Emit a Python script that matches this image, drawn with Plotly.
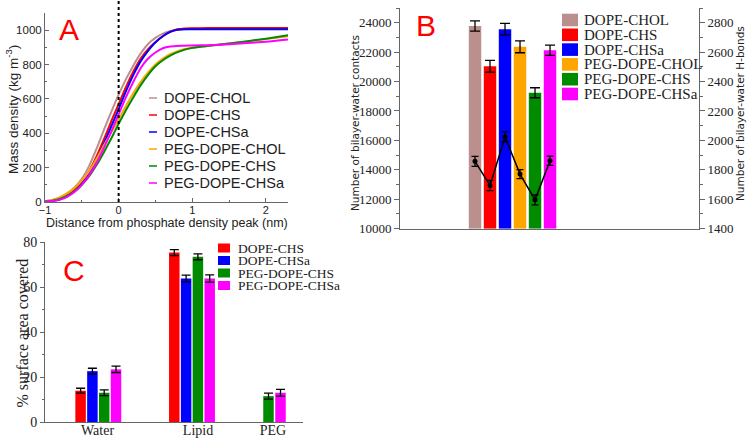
import plotly.graph_objects as go

W, H = 750, 439
def px(x): return x / W
def py(y): return 1 - y / H

# ---------------- Panel A data ----------------
dist = [-1, -0.9, -0.8, -0.7, -0.6, -0.5, -0.4, -0.3, -0.2, -0.1, 0, 0.1, 0.2, 0.3, 0.4,
        0.5, 0.6, 0.7, 0.8, 0.9, 1.0, 1.2, 1.5, 2.0, 2.3]
dope_chol = [5, 12, 25, 50, 85, 135, 210, 310, 420, 525, 625, 715, 795, 865, 920,
             955, 980, 995, 1003, 1006, 1008, 1009, 1009, 1010, 1010]
dope_chs = [3, 8, 18, 38, 70, 115, 180, 265, 365, 470, 570, 670, 760, 835, 890,
            930, 965, 990, 1005, 1010, 1011, 1012, 1012, 1012, 1012]
dope_chsa = [3, 7, 15, 33, 62, 105, 165, 245, 340, 440, 540, 645, 740, 820, 880,
             930, 965, 990, 1003, 1005, 1005, 1005, 1005, 1005, 1005]
peg_chol = [5, 12, 27, 50, 82, 125, 180, 250, 330, 405, 480, 560, 635, 700, 755,
            800, 835, 860, 878, 890, 898, 908, 922, 948, 965]
peg_chs = [3, 8, 18, 35, 63, 100, 150, 215, 290, 370, 455, 535, 610, 680, 740,
           790, 825, 852, 872, 887, 897, 908, 922, 950, 970]
peg_chsa = [2, 6, 14, 30, 58, 100, 155, 225, 315, 410, 510, 610, 700, 780, 835,
            870, 895, 905, 908, 910, 911, 913, 918, 933, 946]

systems = ["DOPE-CHOL", "DOPE-CHS", "DOPE-CHSa", "PEG-DOPE-CHOL", "PEG-DOPE-CHS", "PEG-DOPE-CHSa"]
colors = ["#bc8f8f", "#ff0000", "#0000ff", "#ffa500", "#008b00", "#ff00ff"]
density = [dope_chol, dope_chs, dope_chsa, peg_chol, peg_chs, peg_chsa]

# ---------------- Panel B data ----------------
contacts = [23780, 21040, 23560, 22360, 19240, 22130]
contacts_err = [350, 400, 390, 400, 340, 350]
hbonds = [1858, 1694, 2024, 1771, 1596, 1862]
hbonds_err = [34, 35, 34, 31, 34, 31]

# ---------------- Panel C data ----------------
c_categories = ["Water", "Lipid", "PEG"]
c_series = ["DOPE-CHS", "DOPE-CHSa", "PEG-DOPE-CHS", "PEG-DOPE-CHSa"]
c_colors = ["#ff0000", "#0000ff", "#008b00", "#ff00ff"]
c_values = {
    "DOPE-CHS": [13.9, 75.3, None],
    "DOPE-CHSa": [22.6, 63.8, None],
    "PEG-DOPE-CHS": [13.0, 73.4, 11.5],
    "PEG-DOPE-CHSa": [23.4, 63.8, 13.0],
}
c_errors = {
    "DOPE-CHS": [1.1, 1.3, 0],
    "DOPE-CHSa": [1.3, 1.5, 0],
    "PEG-DOPE-CHS": [1.3, 1.3, 1.3],
    "PEG-DOPE-CHSa": [1.4, 1.6, 1.5],
}

fig = go.Figure()

# Panel A traces
for name, col, ys in zip(systems, colors, density):
    fig.add_trace(go.Scatter(x=dist, y=ys, mode="lines", name=name,
                             line=dict(color=col, width=2, shape="spline", smoothing=0.6),
                             xaxis="x", yaxis="y", showlegend=False))

# Panel B traces
bx = list(range(1, len(systems) + 1))
fig.add_trace(go.Bar(x=bx, y=[c - 10000 for c in contacts], base=10000,
                     marker=dict(color=colors, line=dict(width=0)),
                     width=0.83, xaxis="x2", yaxis="y2", showlegend=False,
                     error_y=dict(type="data", array=contacts_err, color="black", thickness=1.3, width=5)))
fig.add_trace(go.Scatter(x=bx, y=hbonds, mode="lines+markers", xaxis="x2", yaxis="y3",
                         line=dict(color="black", width=1.5), marker=dict(color="black", size=5),
                         error_y=dict(type="data", array=hbonds_err, color="black", thickness=1.3, width=3.5),
                         showlegend=False))

# Panel C traces
group_centers = [53.3, 147, 229.5]
offsets4 = [-17.7, -5.9, 5.9, 17.7]
peg_offsets = {"PEG-DOPE-CHS": -6, "PEG-DOPE-CHSa": 6}
for i, (s, col) in enumerate(zip(c_series, c_colors)):
    xs, ys, es = [], [], []
    for g, gc in enumerate(group_centers):
        v = c_values[s][g]
        if v is None:
            continue
        off = offsets4[i] if g < 2 else peg_offsets[s]
        xs.append(gc + off)
        ys.append(v)
        es.append(c_errors[s][g])
    fig.add_trace(go.Bar(x=xs, y=ys, width=10.5, marker=dict(color=col, line=dict(width=0)),
                         xaxis="x3", yaxis="y4", showlegend=False,
                         error_y=dict(type="data", array=es, color="black", thickness=1.3, width=4.5)))

axcol = "#666666"
sans = "Liberation Sans"
serif = "Liberation Serif"

fig.update_layout(
    width=W, height=H, margin=dict(l=0, r=0, t=0, b=0, pad=0), autosize=False,
    paper_bgcolor="white", plot_bgcolor="white", showlegend=False, barmode="overlay",
    xaxis=dict(domain=[px(45), px(288)], range=[-1, 2.3], anchor="y", automargin=False,
               showline=True, linecolor=axcol, linewidth=1, showgrid=False, zeroline=False,
               ticks="inside", ticklen=4, tickcolor=axcol, tickvals=[-1, 0, 1, 2],
               minor=dict(ticks="inside", ticklen=2, tickcolor=axcol, dtick=0.5),
               ticklabelstandoff=-2,
               tickfont=dict(family=sans, size=11, color="#222")),
    yaxis=dict(domain=[py(202), py(13)], range=[0, 1100], anchor="x", automargin=False,
               showline=True, linecolor=axcol, linewidth=1, showgrid=False, zeroline=False,
               ticks="inside", ticklen=4, tickcolor=axcol, tickvals=[0, 200, 400, 600, 800, 1000],
               minor=dict(ticks="inside", ticklen=2, tickcolor=axcol, dtick=100),
               tickfont=dict(family=sans, size=11.5, color="#222")),
    xaxis2=dict(domain=[px(400), px(699)], range=[-4, 15.93], anchor="y2", automargin=False,
                showline=True, linecolor=axcol, linewidth=1, showgrid=False, zeroline=False,
                showticklabels=False, ticks=""),
    yaxis2=dict(domain=[py(228.7), py(8)], range=[10000, 25000], anchor="x2", automargin=False,
                showline=True, linecolor=axcol, linewidth=1, showgrid=False, zeroline=False,
                ticks="outside", ticklen=5, tickcolor=axcol, dtick=2000, tickformat="d",
                minor=dict(ticks="outside", ticklen=3, tickcolor=axcol, dtick=1000),
                tickfont=dict(family=serif, size=13, color="#222")),
    yaxis3=dict(overlaying="y2", side="right", range=[1400, 2900], anchor="x2", automargin=False,
                showline=True, linecolor=axcol, linewidth=1, showgrid=False, zeroline=False,
                ticks="outside", ticklen=5, tickcolor=axcol, dtick=200, tickformat="d",
                minor=dict(ticks="outside", ticklen=3, tickcolor=axcol, dtick=100),
                tickfont=dict(family=serif, size=13, color="#222")),
    xaxis3=dict(domain=[px(45), px(303)], range=[0, 258], anchor="y4", automargin=False,
                showline=True, linecolor=axcol, linewidth=1, showgrid=False, zeroline=False,
                ticks="", tickvals=[52.5, 153, 228], ticktext=c_categories,
                ticklabelstandoff=-5,
                tickfont=dict(family=serif, size=14, color="#222")),
    yaxis4=dict(domain=[py(422), py(242)], range=[0, 80], anchor="x3", automargin=False,
                showline=True, linecolor=axcol, linewidth=1, showgrid=False, zeroline=False,
                ticks="outside", ticklen=4, tickcolor=axcol, dtick=20,
                minor=dict(ticks="outside", ticklen=2, tickcolor=axcol, dtick=10),
                tickfont=dict(family=serif, size=14, color="#222")),
)

shapes = []
annotations = []

# dotted vertical line at x=0 in panel A
shapes.append(dict(type="line", xref="x", yref="paper", x0=0, x1=0, y0=py(202), y1=py(0),
                   line=dict(color="black", width=2, dash="dot")))

def label(x, y, text, font, angle=0, xanchor="center"):
    annotations.append(dict(xref="paper", yref="paper", x=px(x), y=py(y), text=text,
                            showarrow=False, xanchor=xanchor, yanchor="middle",
                            textangle=angle, font=font))

# Panel A legend
for i, (name, col) in enumerate(zip(systems, colors)):
    yy = 98 + 17 * i
    shapes.append(dict(type="line", xref="paper", yref="paper", x0=px(149), x1=px(157),
                       y0=py(yy), y1=py(yy), line=dict(color=col, width=1.5)))
    label(162, yy, name, dict(family=sans, size=14.5, color="#222"), xanchor="left")

# Panel B legend
for i, (name, col) in enumerate(zip(systems, colors)):
    yy = 20 + 14.8 * i
    shapes.append(dict(type="rect", xref="paper", yref="paper", x0=px(562), x1=px(578),
                       y0=py(yy + 6.3), y1=py(yy - 6.3), fillcolor=col, line=dict(width=0)))
    label(582, yy, name, dict(family=serif, size=15, color="#222"), xanchor="left")

# Panel C legend
for i, (name, col) in enumerate(zip(c_series, c_colors)):
    yy = 248 + 12.5 * i
    shapes.append(dict(type="rect", xref="paper", yref="paper", x0=px(218), x1=px(230),
                       y0=py(yy + 4.5), y1=py(yy - 4.5), fillcolor=col, line=dict(width=0)))
    label(236, yy, name, dict(family=serif, size=13.5, color="#222"), xanchor="left")

# Axis titles
label(12, 110, "Mass density (kg m<sup>-3</sup>)", dict(family=sans, size=13.5, color="#222"), angle=-90)
label(167, 223, "Distance from phosphate density peak (nm)", dict(family=sans, size=12.5, color="#222"))
label(355, 123, "Number of bilayer-water contacts", dict(family="DejaVu Sans", size=10.5, color="#222"), angle=-90)
label(740, 114, "Number of bilayer-water H-bonds", dict(family="DejaVu Sans", size=10.5, color="#222"), angle=-90)
label(21.5, 333, "% surface area covered", dict(family=serif, size=16, color="#222"), angle=-90)

# Panel letters
for letter, x, y in [("A", 68.5, 29), ("B", 425.5, 25), ("C", 74, 270)]:
    label(x, y, letter, dict(family=sans, size=30, color="#ff0000"))

fig.update_layout(shapes=shapes, annotations=annotations)
fig.write_html("out.html", config={"displayModeBar": False},
               post_script="document.body.style.margin='0';document.body.style.overflow='hidden';")
